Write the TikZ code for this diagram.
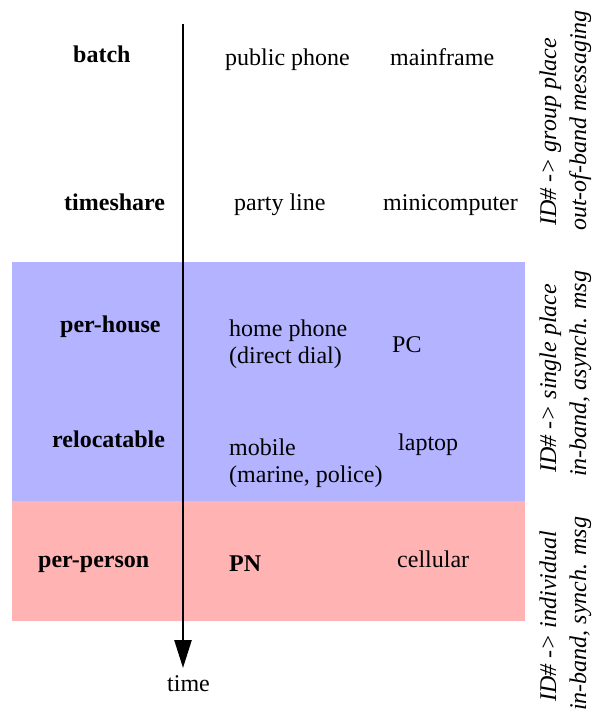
\documentclass[tikz,border=0pt]{standalone}
\usepackage{fontspec}
\setmainfont{Liberation Serif}
\usetikzlibrary{arrows.meta}
\definecolor{bandblue}{RGB}{179,179,255}
\definecolor{bandpink}{RGB}{255,179,179}
\begin{document}
\begin{tikzpicture}[x=1pt,y=-1pt,
  lbl/.style={inner sep=0pt,anchor=base west,font=\fontsize{24}{27}\selectfont},
  hdr/.style={lbl,font=\fontsize{24}{27}\selectfont\bfseries},
  twoline/.style={lbl,align=left},
  side/.style={inner sep=0pt,rotate=90,anchor=base west,font=\fontsize{24}{27}\selectfont\itshape}]
\useasboundingbox (0,0) rectangle (595,719);
\fill[bandblue] (12,262) rectangle (525,501);
\fill[bandpink] (12,501) rectangle (525,621);
% left column
\node[hdr] (batch) at (73,63) {batch};
\node[hdr] (timeshare) at (64,211) {timeshare};
\node[hdr] (perhouse) at (60,332) {per-house};
\node[hdr] (reloc) at (52,447) {relocatable};
\node[hdr] (perperson) at (38,567) {per-person};
% middle column
\node[lbl] (pubphone) at (225,66) {public phone};
\node[lbl] (party) at (234,211) {party line};
\node[twoline] (home) at (229,363) {home phone\\(direct dial)};
\node[twoline] (mobile) at (229,482) {mobile\\(marine, police)};
\node[hdr] (pn) at (229,571) {PN};
% right column
\node[lbl] (mainframe) at (390,66) {mainframe};
\node[lbl] (mini) at (383,211) {minicomputer};
\node[lbl] (pc) at (392,352) {PC};
\node[lbl] (laptop) at (398,450) {laptop};
\node[lbl] (cell) at (397,567) {cellular};
% side labels
\node[side] (s1a) at (556,226) {ID\# -> group place};
\node[side] (s1b) at (586,231) {out-of-band messaging};
\node[side] (s2a) at (556,473) {ID\# -> single place};
\node[side] (s2b) at (586,477) {in-band, asynch. msg};
\node[side] (s3a) at (556,702) {ID\# -> individual};
\node[side] (s3b) at (586,711) {in-band, synch. msg};
% time arrow
\coordinate (tstart) at (183,24);
\node[lbl] (time) at (167,691) {time};
\draw[line width=2.5pt,-{Triangle[length=28pt,width=17pt]}] (tstart) -- (183,668);
\end{tikzpicture}
\end{document}
